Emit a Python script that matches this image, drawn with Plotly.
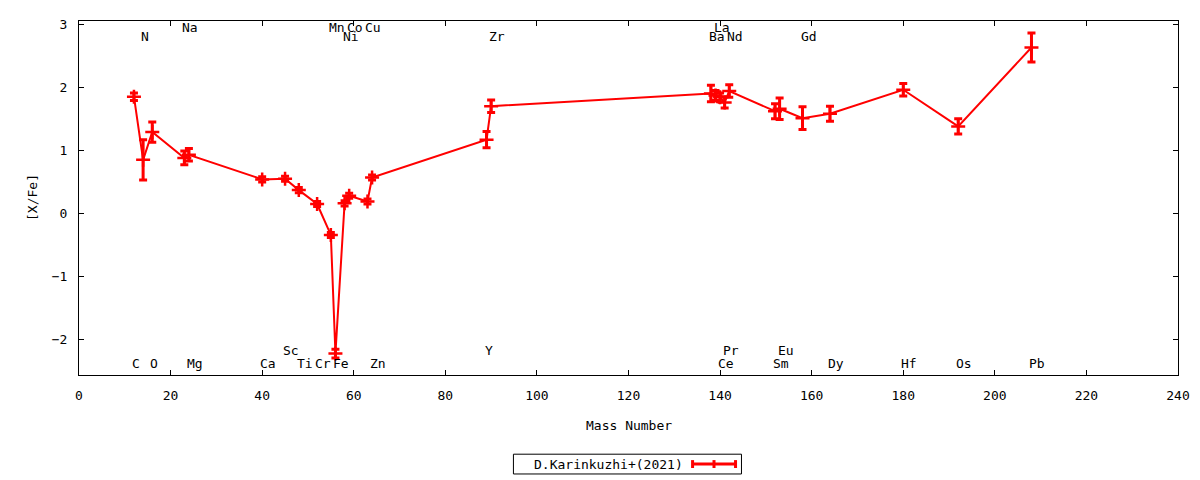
import plotly.graph_objects as go

elements = ['C', 'N', 'O', 'Na', 'Mg', 'Ca', 'Sc', 'Ti', 'Cr', 'Mn', 'Fe', 'Ni', 'Co', 'Cu', 'Zn',
            'Y', 'Zr', 'Ba', 'La', 'Ce', 'Pr', 'Nd', 'Sm', 'Eu', 'Gd', 'Dy', 'Hf', 'Os', 'Pb']
mass = [12, 14, 16, 23, 24, 40, 45, 48, 52, 55, 56, 58, 59, 63, 64,
        89, 90, 138, 139, 140, 141, 142, 152, 153, 158, 164, 180, 192, 208]
xfe = [1.85, 0.85, 1.29, 0.88, 0.93, 0.54, 0.55, 0.37, 0.15, -0.34, -2.22, 0.16, 0.28, 0.19, 0.57,
       1.17, 1.70, 1.90, 1.87, 1.84, 1.76, 1.94, 1.62, 1.66, 1.51, 1.58, 1.96, 1.38, 2.63]
err = [0.06, 0.32, 0.16, 0.11, 0.10, 0.04, 0.04, 0.04, 0.04, 0.04, 0.07, 0.04, 0.04, 0.04, 0.04,
       0.13, 0.10, 0.13, 0.08, 0.07, 0.09, 0.10, 0.12, 0.17, 0.18, 0.12, 0.10, 0.12, 0.23]
# row of each element label (y in data units)
label_y = [-2.38, 2.80, -2.38, 2.95, -2.38, -2.38, -2.17, -2.38, -2.38, 2.95, -2.38, 2.80, 2.95, 2.95, -2.38,
           -2.17, 2.80, 2.80, 2.95, -2.38, -2.17, 2.80, -2.38, -2.17, 2.80, -2.38, -2.38, -2.38, -2.38]

x_ticks = list(range(0, 241, 20))
y_ticks = [-2, -1, 0, 1, 2, 3]

RED = '#ff0000'
FONT = dict(family='DejaVu Sans Mono', size=13, color='black')

fig = go.Figure()
fig.add_trace(go.Scatter(
    x=mass, y=xfe,
    mode='lines+markers',
    line=dict(color=RED, width=2),
    marker=dict(symbol='cross-thin', size=10, line=dict(color=RED, width=2.5), color=RED),
    error_y=dict(type='data', array=err, visible=True, color=RED, thickness=3, width=4),
    name='D.Karinkuzhi+(2021)',
    showlegend=False,
))

annotations = []
for el, m, ly in zip(elements, mass, label_y):
    annotations.append(dict(x=m, y=ly, text=el, showarrow=False, xanchor='left', yanchor='middle',
                            xshift=-4, font=FONT))

# axis titles
annotations.append(dict(x=0.5, y=0, xref='paper', yref='paper', text='Mass Number', showarrow=False,
                        yanchor='middle', yshift=-50, font=FONT))
annotations.append(dict(x=0, y=0.5, xref='paper', yref='paper', text='[X/Fe]', showarrow=False,
                        xanchor='center', xshift=-47, textangle=-90, font=FONT))

# gnuplot style key: text on the left, sample on the right
annotations.append(dict(x=0.551, y=-0.2516, xref='paper', yref='paper', text='D.Karinkuzhi+(2021)',
                        showarrow=False, xanchor='right', yanchor='middle', font=FONT))
shapes = [
    dict(type='rect', xref='paper', yref='paper', x0=0.3953, x1=0.6028, y0=-0.2796, y1=-0.2237,
         line=dict(color='black', width=1)),
    dict(type='line', xref='paper', yref='paper', x0=0.5583, x1=0.5974, y0=-0.2516, y1=-0.2516,
         line=dict(color=RED, width=3)),
]
for xc in (0.5583, 0.5778, 0.5974):
    shapes.append(dict(type='line', xref='paper', yref='paper', x0=xc, x1=xc, y0=-0.2628, y1=-0.2404,
                       line=dict(color=RED, width=3)))

axis_common = dict(showline=True, linecolor='black', linewidth=1, mirror='allticks', ticks='inside',
                   ticklen=5, tickcolor='black', showgrid=False, zeroline=False, tickfont=FONT)

# page body has an 8px margin, so the figure is a bit smaller than the window
fig.update_layout(
    width=1192, height=472,
    margin=dict(l=71, r=22, t=9, b=105),
    paper_bgcolor='white', plot_bgcolor='white',
    xaxis=dict(range=[0, 240], tickvals=x_ticks, ticklabelstandoff=8, **axis_common),
    yaxis=dict(range=[-2.56, 3.05], tickvals=y_ticks, ticklabelstandoff=8, **axis_common),
    annotations=annotations,
    shapes=shapes,
    showlegend=False,
)

fig.write_html('out.html')
